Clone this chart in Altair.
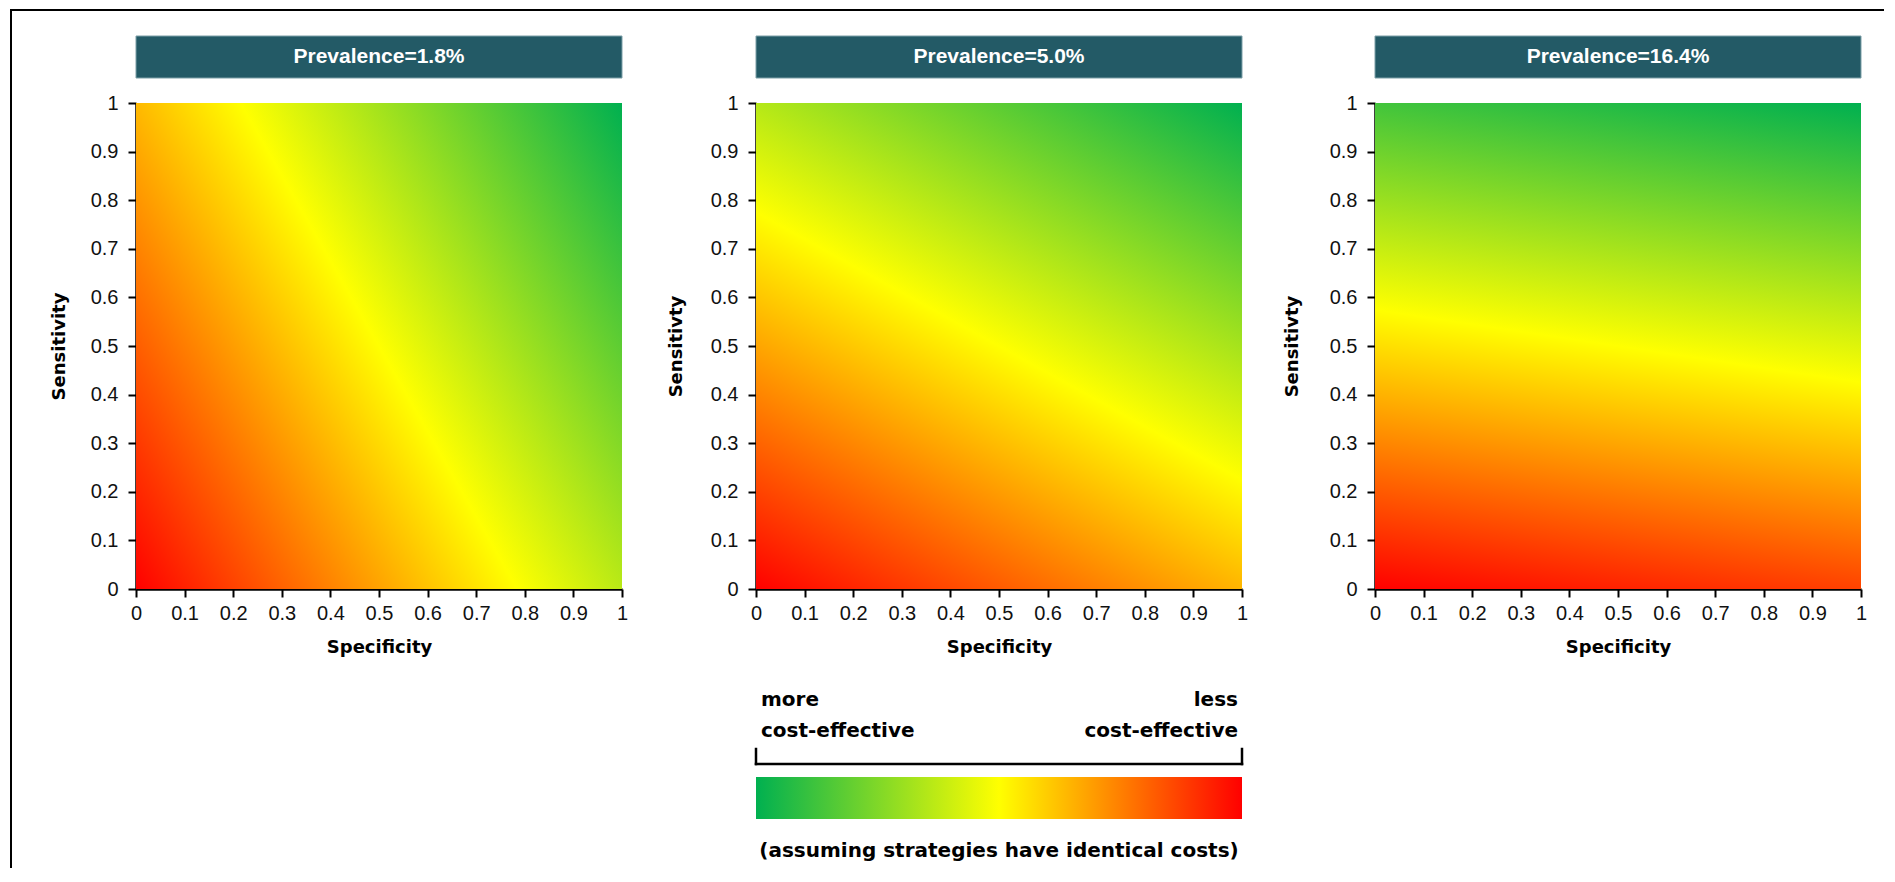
import altair as alt
import pandas as pd

# ---------------- data ----------------
prevalence_labels = ["Prevalence=1.8%", "Prevalence=5.0%", "Prevalence=16.4%"]
sens_titles = ["Sensitivity", "Sensitivty", "Sensitivty"]
x_title = "Specificity"
# share of the colour value carried by sensitivity in each panel
# (read from the tilt of the yellow mid band; specificity carries the rest)
sens_weight = [0.363, 0.645, 0.87]
tick_values = [0, 0.1, 0.2, 0.3, 0.4, 0.5, 0.6, 0.7, 0.8, 0.9, 1]
# colour ramp: least -> middle -> most cost-effective
ramp_colors = ["#ff0000", "#ffff00", "#00b050"]
legend_left = ["more", "cost-effective"]
legend_right = ["less", "cost-effective"]
legend_note = "(assuming strategies have identical costs)"

# ---------------- layout (pixels) ----------------
W = H = 486
plot_left = [136, 756, 1375]      # page x of each plot area
plot_top = 103                    # page y of plot areas
frame_x, frame_y = 11, 10         # page centre of the frame lines
frame_bottom = 868
bounds_between = [645, 1262]      # page x where panels meet
frame_right = 1884
title_pads = [22, 25, 28]

HEADER_FILL = "#235a66"

xs = alt.Scale(domain=[0, 1], nice=False, zero=False)
ys = alt.Scale(domain=[0, 1], nice=False, zero=False)
x_axis = alt.Axis(values=tick_values, format="~g", title=x_title, titlePadding=15, labelPadding=6,
                  labelFlush=False, labelOverlap=False)


def xenc(field):
    return alt.X(field, scale=xs, axis=x_axis)


def ramp(colors):
    return [alt.GradientStop(offset=0, color=colors[0]),
            alt.GradientStop(offset=0.5, color=colors[1]),
            alt.GradientStop(offset=1, color=colors[2])]


one = pd.DataFrame({"x0": [0.0], "x1": [1.0], "xm": [0.5], "y0": [0.0], "y1": [1.0]})


def panel(i):
    ws = sens_weight[i]
    wp = 1 - ws
    n = ws * ws + wp * wp
    grad = alt.LinearGradient(gradient="linear", stops=ramp(ramp_colors),
                              x1=0, y1=1, x2=wp / n, y2=1 - ws / n)
    heat = alt.Chart(one).mark_rect(fill=grad).encode(
        x=xenc("x0:Q"), x2="x1:Q",
        y=alt.Y("y0:Q", scale=ys, axis=alt.Axis(values=tick_values, format="~g", title=sens_titles[i],
                                                 titlePadding=title_pads[i], labelFlush=False,
                                                 labelOverlap=False)),
        y2="y1:Q",
    )
    hdr = pd.DataFrame({"x0": [0.0], "x1": [1.0], "xm": [0.5], "label": [prevalence_labels[i]]})
    header = alt.Chart(hdr).mark_rect(fill=HEADER_FILL, stroke="#7c9fa7", strokeWidth=1).encode(
        x=xenc("x0:Q"), x2="x1:Q", y=alt.value(-67), y2=alt.value(-25))
    header_text = alt.Chart(hdr).mark_text(font="Liberation Sans", fontWeight="bold", fontSize=21,
                                           color="white", baseline="middle", align="center").encode(
        x=xenc("xm:Q"), y=alt.value(-46), text="label:N")

    # frame pieces (top line across every panel, left line on the first one)
    left = plot_left[i]
    L = (frame_x - 1 - left) if i == 0 else (bounds_between[i - 1] - left)
    R = (bounds_between[i] - left) if i < 2 else (frame_right - left)
    T = frame_y - plot_top
    layers = [heat, header, header_text]
    frame_df = pd.DataFrame({"k": [0]})
    layers.append(alt.Chart(frame_df).mark_rect(color="black").encode(
        x=alt.value(L), x2=alt.value(R), y=alt.value(T - 1), y2=alt.value(T + 1)))
    if i == 0:
        layers.append(alt.Chart(frame_df).mark_rect(color="black").encode(
            x=alt.value(L), x2=alt.value(L + 2), y=alt.value(T - 1), y2=alt.value(frame_bottom - plot_top)))

    if i == 1:
        tf = dict(font="DejaVu Sans", fontWeight="bold", fontSize=20, color="black", baseline="alphabetic")
        lt = pd.DataFrame({"x0": [0.0, 0.0], "txt": legend_left})
        rt = pd.DataFrame({"x1": [1.0, 1.0], "txt": legend_right})
        for r, yv in ((0, 603), (1, 634)):
            layers.append(alt.Chart(lt.iloc[[r]]).mark_text(align="left", dx=5, **tf).encode(
                x=xenc("x0:Q"), y=alt.value(yv), text="txt:N"))
            layers.append(alt.Chart(rt.iloc[[r]]).mark_text(align="right", dx=-4, **tf).encode(
                x=xenc("x1:Q"), y=alt.value(yv), text="txt:N"))
        layers.append(alt.Chart(one).mark_rule(color="black", strokeWidth=2.5, strokeCap="square").encode(
            x=xenc("x0:Q"), x2="x1:Q", y=alt.value(661)))
        ends = pd.DataFrame({"xe": [0.0, 1.0]})
        layers.append(alt.Chart(ends).mark_rule(color="black", strokeWidth=2.5, strokeCap="square").encode(
            x=xenc("xe:Q"), y=alt.value(646), y2=alt.value(661)))
        bar_grad = alt.LinearGradient(gradient="linear", stops=ramp(ramp_colors[::-1]),
                                      x1=0, y1=0, x2=1, y2=0)
        layers.append(alt.Chart(one).mark_rect(fill=bar_grad).encode(
            x=xenc("x0:Q"), x2="x1:Q", y=alt.value(674), y2=alt.value(716)))
        note = pd.DataFrame({"xm": [0.5], "txt": [legend_note]})
        layers.append(alt.Chart(note).mark_text(align="center", **tf).encode(
            x=xenc("xm:Q"), y=alt.value(754), text="txt:N"))

    return alt.layer(*layers).properties(width=W, height=H)


chart = alt.hconcat(panel(0), panel(1), panel(2), spacing=0).properties(
    padding={"left": 2, "top": 1, "right": 0, "bottom": 0}, background="white"
).configure_view(strokeWidth=0).configure_axis(
    domainColor="black", domainWidth=2.5, tickColor="black", tickWidth=2, tickSize=8,
    labelFont="Liberation Sans", labelFontSize=20, labelColor="#111111", labelPadding=10,
    titleFont="DejaVu Sans", titleFontSize=18, titleFontWeight="bold", titleColor="black",
    grid=False, zindex=1,
)

chart.save("out.html", embed_options={"renderer": "svg", "actions": False})
